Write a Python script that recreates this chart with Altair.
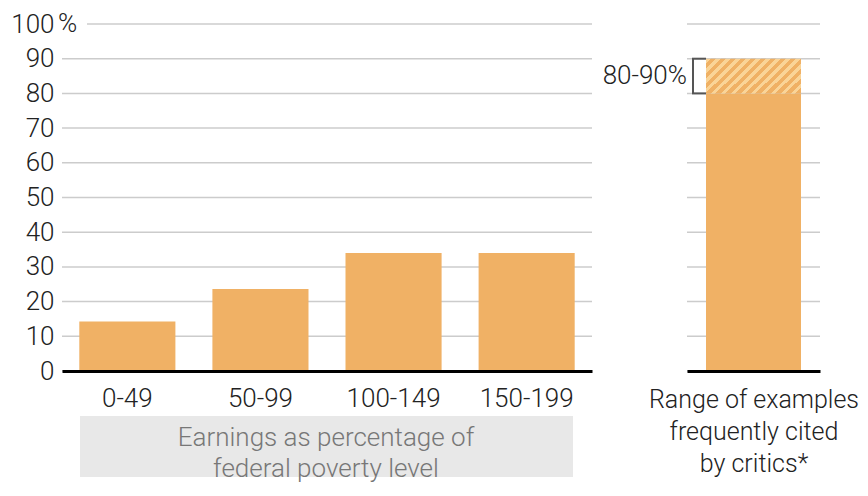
import altair as alt
import pandas as pd

# ---- data ----
categories = ["0-49", "50-99", "100-149", "150-199"]
values = [14.3, 23.6, 34.0, 34.0]
y_ticks = [0, 10, 20, 30, 40, 50, 60, 70, 80, 90, 100]
range_category = ["Range of examples"]
range_low = [80]
range_high = [90]
range_title = ["Range of examples", "frequently cited", "by critics*"]
left_title = ["Earnings as percentage of", "federal poverty level"]

FONT = "Roboto"
FW = 300
ORANGE = "#F0B165"
LIGHT = "#FAD497"
GRID = "#CCCCCC"
TXT = "#222222"
FS = 26
H = 347

left_df = pd.DataFrame({"cat": categories, "val": values})
grid_df = pd.DataFrame({"v": [t for t in y_ticks if t < 100]})
top_df = pd.DataFrame({"v": [t for t in y_ticks if t == 100]})
one_df = pd.DataFrame({"t": [0]})
right_df = pd.DataFrame({"cat": range_category, "low": range_low, "high": range_high})
right_df["mid"] = (right_df["low"] + right_df["high"]) / 2
right_df["label"] = [f"{a}-{b}%" for a, b in zip(range_low, range_high)]
arms_df = pd.DataFrame({"v": range_low + range_high})

yscale = alt.Scale(domain=[0, 100], nice=False, zero=True)

# ---------- left panel ----------
y_left_axis = alt.Axis(values=y_ticks, labelExpr="datum.value == 100 ? '100' : datum.label",
                       grid=False, ticks=False, domain=False, labelPadding=8,
                       labelFontSize=FS, labelColor=TXT, title=None, labelFont=FONT,
                       labelFontWeight=FW, labelOverlap=False, labelBound=False)


def ly(field):
    return alt.Y(field, scale=yscale, axis=y_left_axis, title=None)


grid_l = alt.Chart(grid_df).mark_rule(color=GRID, strokeWidth=1.5).encode(y=ly("v:Q"))
grid_top = alt.Chart(top_df).mark_rule(color=GRID, strokeWidth=1.5).encode(
    y=ly("v:Q"), x=alt.value(25), x2=alt.value(530))
pct = alt.Chart(top_df).mark_text(text="%", align="left", baseline="middle", fontSize=FS,
                                  font=FONT, fontWeight=FW, color=TXT, dx=-4).encode(
    y=ly("v:Q"), x=alt.value(0))

bars_l = alt.Chart(left_df).mark_bar(color=ORANGE).encode(
    x=alt.X("cat:N", sort=categories,
            scale=alt.Scale(paddingInner=0.278, paddingOuter=0.13),
            axis=alt.Axis(title=None, labelFontSize=FS, labelColor=TXT, labelPadding=14,
                          ticks=False, domainColor="black", domainWidth=3, labelAngle=0,
                          grid=False, zindex=1, labelFont=FONT, labelFontWeight=FW)),
    y=ly("val:Q"))

box = alt.Chart(one_df).mark_rect(color="#E8E8E8").encode(
    x=alt.value(18), x2=alt.value(511), y=alt.value(H + 45), y2=alt.value(H + 106))
box_text1 = alt.Chart(one_df).mark_text(fontSize=FS, font=FONT, fontWeight=FW, color="#777777",
                                        align="center", baseline="middle").encode(
    x=alt.value(264), y=alt.value(H + 67), text=alt.value(left_title[0]))
box_text2 = alt.Chart(one_df).mark_text(fontSize=FS, font=FONT, fontWeight=FW, color="#777777",
                                        align="center", baseline="middle").encode(
    x=alt.value(264), y=alt.value(H + 98), text=alt.value(left_title[1]))

left = alt.layer(grid_l, grid_top, bars_l, pct, box, box_text1, box_text2).properties(width=530, height=H)

# ---------- right panel ----------
grad = {
    "gradient": "linear", "x1": 0, "y1": 0, "x2": 1.205, "y2": 0.4435,
    "stops": []
}
n = 13
for i in range(n):
    a = i / n
    b = (i + 0.45) / n
    c = (i + 1) / n
    grad["stops"] += [
        {"offset": a, "color": LIGHT}, {"offset": b, "color": LIGHT},
        {"offset": b, "color": ORANGE}, {"offset": c, "color": ORANGE},
    ]

x_right = alt.X("cat:N", scale=alt.Scale(paddingInner=0, paddingOuter=0.2),
                axis=alt.Axis(title=range_title, labels=False, ticks=False, domainColor="black",
                              domainWidth=3, titleFontSize=25, titleFontWeight=FW,
                              titleColor=TXT, titlePadding=16, titleLineHeight=32,
                              zindex=1, titleFont=FONT))


def ry(field):
    return alt.Y(field, scale=yscale, axis=None, title=None)


grid_r = alt.Chart(pd.DataFrame({"v": y_ticks})).mark_rule(color=GRID, strokeWidth=1.5).encode(
    y=ry("v:Q"))
solid = alt.Chart(right_df).mark_bar(color=ORANGE).encode(x=x_right, y=ry("low:Q"))
hatch = alt.Chart(right_df).mark_bar(color=grad).encode(x=x_right, y=ry("high:Q"), y2="low:Q")
bracket_v = alt.Chart(right_df).mark_rule(color="#555555", strokeWidth=2).encode(
    x=alt.value(6), y=ry("low:Q"), y2="high:Q")
bracket_h = alt.Chart(arms_df).mark_rule(color="#555555", strokeWidth=2).encode(
    x=alt.value(5), x2=alt.value(19), y=ry("v:Q"))
rlabel = alt.Chart(right_df).mark_text(align="right", baseline="middle", fontSize=FS,
                                       font=FONT, fontWeight=FW, color=TXT).encode(
    x=alt.value(0), y=ry("mid:Q"), text="label:N")

right = alt.layer(grid_r, solid, hatch, bracket_v, bracket_h, rlabel).properties(width=133, height=H)

chart = alt.hconcat(left, right, spacing=95, bounds="flush").properties(
    padding={"left": 2, "top": 3, "right": 0, "bottom": 0}
).configure(font=FONT).configure_view(stroke=None)

chart.save("out.html", embed_options={"renderer": "svg", "actions": False})
